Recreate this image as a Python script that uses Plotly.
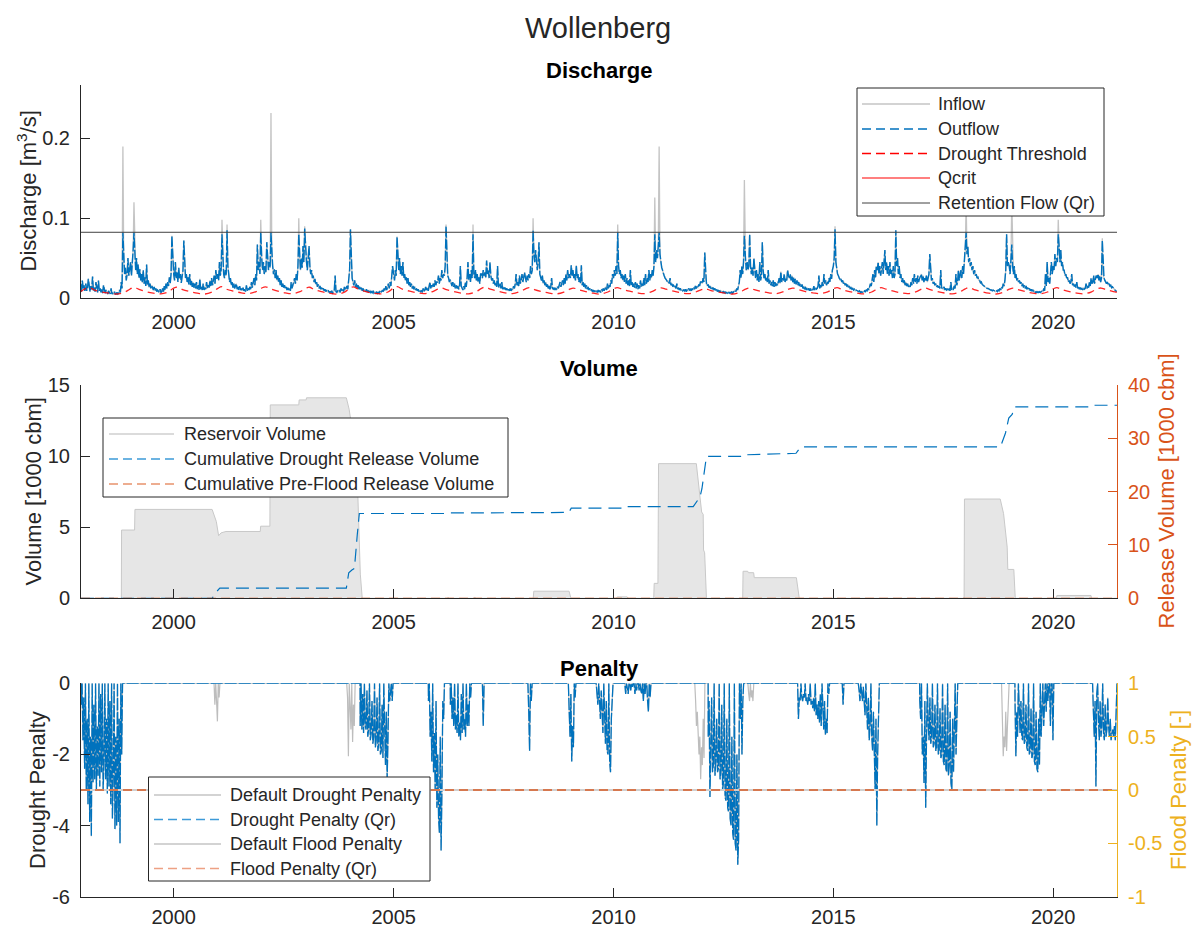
import pandas as pd
import plotly.graph_objects as go

W, H = 1193, 927
FONT = "Liberation Sans, Arial, Helvetica, sans-serif"
AX = "#262626"
BLUE = "#0072BD"
ORANGE = "#D95319"
YELLOW = "#EDB120"
RED = "#FF0000"
GRAY = "#c4c4c4"

T_START, T_END = "1997-11-22", "2021-06-14"
YEAR_TICKS = ["2000", "2005", "2010", "2015", "2020"]

# ---------------- Outflow (m3/s), weekly from Jan 1 of each year ----------------
out_1997 = [0.010, 0.018, 0.008, 0.022, 0.012, 0.016, 0.009]  # weeks 45-51
out_1998 = [0.018, 0.009, 0.012, 0.024, 0.010, 0.008, 0.015, 0.011, 0.027, 0.009, 0.013, 0.008, 0.020,
            0.010, 0.007, 0.022, 0.009, 0.012, 0.007, 0.011, 0.006, 0.016, 0.008, 0.006, 0.010, 0.006,
            0.005, 0.009, 0.006, 0.005, 0.012, 0.005, 0.006, 0.005, 0.008, 0.005, 0.005, 0.007, 0.005,
            0.006, 0.010, 0.007, 0.020, 0.012, 0.082, 0.045, 0.030, 0.038, 0.022, 0.030, 0.050, 0.028]
out_1999 = [0.035, 0.045, 0.028, 0.040, 0.060, 0.082, 0.045, 0.035, 0.050, 0.030, 0.042, 0.025, 0.036,
            0.022, 0.030, 0.019, 0.035, 0.018, 0.026, 0.015, 0.042, 0.016, 0.022, 0.013, 0.018, 0.012,
            0.016, 0.011, 0.010, 0.014, 0.009, 0.012, 0.008, 0.010, 0.008, 0.007, 0.011, 0.007, 0.008,
            0.012, 0.008, 0.015, 0.010, 0.018, 0.012, 0.020, 0.015, 0.026, 0.018, 0.030, 0.078, 0.040]
out_2000 = [0.030, 0.022, 0.045, 0.025, 0.032, 0.020, 0.038, 0.024, 0.030, 0.019, 0.028, 0.035, 0.072,
            0.035, 0.025, 0.030, 0.020, 0.026, 0.017, 0.030, 0.016, 0.022, 0.014, 0.020, 0.013, 0.018,
            0.012, 0.020, 0.011, 0.016, 0.010, 0.024, 0.011, 0.014, 0.010, 0.018, 0.010, 0.013, 0.011,
            0.020, 0.012, 0.016, 0.013, 0.022, 0.015, 0.025, 0.016, 0.020, 0.028, 0.018, 0.035, 0.024]
out_2001 = [0.030, 0.022, 0.045, 0.028, 0.035, 0.080, 0.040, 0.030, 0.025, 0.035, 0.028, 0.085, 0.040,
            0.028, 0.020, 0.025, 0.016, 0.020, 0.013, 0.018, 0.012, 0.015, 0.018, 0.011, 0.014, 0.010,
            0.015, 0.010, 0.012, 0.009, 0.013, 0.009, 0.011, 0.008, 0.016, 0.009, 0.012, 0.010, 0.014,
            0.011, 0.020, 0.013, 0.018, 0.025, 0.016, 0.030, 0.022, 0.067, 0.035, 0.045, 0.030, 0.082]
out_2002 = [0.050, 0.035, 0.045, 0.030, 0.040, 0.032, 0.070, 0.040, 0.035, 0.045, 0.038, 0.082, 0.050,
            0.040, 0.030, 0.036, 0.025, 0.035, 0.022, 0.028, 0.020, 0.025, 0.016, 0.022, 0.014, 0.018,
            0.013, 0.016, 0.012, 0.014, 0.010, 0.013, 0.010, 0.012, 0.009, 0.020, 0.012, 0.016, 0.018,
            0.025, 0.018, 0.030, 0.022, 0.040, 0.080, 0.045, 0.035, 0.050, 0.038, 0.065, 0.045, 0.087]
out_2003 = [0.060, 0.045, 0.035, 0.050, 0.065, 0.040, 0.030, 0.035, 0.025, 0.028, 0.020, 0.024, 0.017,
            0.020, 0.014, 0.017, 0.012, 0.015, 0.011, 0.013, 0.010, 0.012, 0.009, 0.011, 0.008, 0.010,
            0.008, 0.009, 0.007, 0.008, 0.007, 0.009, 0.006, 0.007, 0.010, 0.028, 0.008, 0.007, 0.009,
            0.008, 0.010, 0.007, 0.012, 0.009, 0.011, 0.008, 0.014, 0.010, 0.013, 0.015, 0.011, 0.020]
out_2004 = [0.035, 0.086, 0.040, 0.025, 0.020, 0.016, 0.022, 0.014, 0.018, 0.012, 0.016, 0.011, 0.014,
            0.010, 0.013, 0.009, 0.012, 0.009, 0.010, 0.008, 0.011, 0.008, 0.009, 0.007, 0.010, 0.007,
            0.008, 0.006, 0.009, 0.006, 0.007, 0.006, 0.008, 0.005, 0.007, 0.006, 0.009, 0.007, 0.008,
            0.010, 0.008, 0.012, 0.009, 0.015, 0.010, 0.013, 0.018, 0.012, 0.020, 0.015, 0.025, 0.040]
out_2005 = [0.030, 0.022, 0.035, 0.028, 0.077, 0.045, 0.035, 0.050, 0.030, 0.040, 0.028, 0.045, 0.025,
            0.030, 0.022, 0.026, 0.018, 0.025, 0.016, 0.020, 0.014, 0.018, 0.012, 0.015, 0.011, 0.014,
            0.010, 0.012, 0.009, 0.011, 0.008, 0.010, 0.008, 0.009, 0.007, 0.012, 0.008, 0.010, 0.014,
            0.010, 0.013, 0.009, 0.015, 0.020, 0.012, 0.016, 0.013, 0.018, 0.014, 0.022, 0.016, 0.020]
out_2006 = [0.020, 0.028, 0.018, 0.025, 0.022, 0.035, 0.025, 0.030, 0.028, 0.040, 0.090, 0.035, 0.028,
            0.025, 0.020, 0.023, 0.018, 0.015, 0.020, 0.014, 0.018, 0.012, 0.016, 0.012, 0.015, 0.011,
            0.014, 0.040, 0.015, 0.012, 0.010, 0.015, 0.011, 0.020, 0.014, 0.025, 0.045, 0.022, 0.030,
            0.020, 0.035, 0.025, 0.080, 0.030, 0.025, 0.035, 0.022, 0.030, 0.020, 0.026, 0.018, 0.030]
out_2007 = [0.030, 0.025, 0.035, 0.028, 0.032, 0.025, 0.047, 0.030, 0.035, 0.025, 0.045, 0.028, 0.022,
            0.025, 0.018, 0.022, 0.016, 0.019, 0.014, 0.040, 0.015, 0.013, 0.018, 0.012, 0.020, 0.011,
            0.014, 0.011, 0.013, 0.010, 0.012, 0.009, 0.011, 0.009, 0.012, 0.009, 0.011, 0.010, 0.015,
            0.012, 0.018, 0.030, 0.016, 0.020, 0.015, 0.028, 0.018, 0.022, 0.030, 0.020, 0.025, 0.032]
out_2008 = [0.025, 0.020, 0.028, 0.022, 0.030, 0.025, 0.040, 0.030, 0.035, 0.085, 0.055, 0.045, 0.060,
            0.040, 0.035, 0.045, 0.070, 0.030, 0.025, 0.022, 0.028, 0.018, 0.022, 0.016, 0.020, 0.014,
            0.017, 0.012, 0.015, 0.011, 0.014, 0.025, 0.012, 0.011, 0.013, 0.010, 0.012, 0.011, 0.014,
            0.012, 0.016, 0.020, 0.014, 0.018, 0.022, 0.016, 0.025, 0.018, 0.030, 0.022, 0.035, 0.025]
out_2009 = [0.030, 0.025, 0.041, 0.028, 0.035, 0.025, 0.030, 0.022, 0.041, 0.025, 0.030, 0.020, 0.026,
            0.018, 0.041, 0.016, 0.020, 0.014, 0.018, 0.012, 0.016, 0.011, 0.014, 0.010, 0.012, 0.009,
            0.011, 0.008, 0.010, 0.008, 0.009, 0.007, 0.009, 0.007, 0.010, 0.008, 0.009, 0.007, 0.010,
            0.009, 0.012, 0.009, 0.011, 0.014, 0.010, 0.018, 0.012, 0.016, 0.014, 0.022, 0.018, 0.030]
out_2010 = [0.025, 0.035, 0.028, 0.040, 0.030, 0.082, 0.040, 0.030, 0.035, 0.025, 0.030, 0.022, 0.028,
            0.020, 0.030, 0.018, 0.025, 0.016, 0.022, 0.015, 0.035, 0.016, 0.020, 0.014, 0.018, 0.013,
            0.020, 0.012, 0.018, 0.011, 0.016, 0.012, 0.022, 0.014, 0.018, 0.015, 0.025, 0.016, 0.030,
            0.018, 0.025, 0.020, 0.035, 0.022, 0.030, 0.025, 0.035, 0.028, 0.040, 0.080, 0.045, 0.060]
out_2011 = [0.050, 0.065, 0.082, 0.055, 0.045, 0.038, 0.035, 0.030, 0.028, 0.025, 0.024, 0.022, 0.020,
            0.021, 0.018, 0.025, 0.016, 0.018, 0.015, 0.016, 0.013, 0.015, 0.012, 0.018, 0.011, 0.013,
            0.010, 0.012, 0.010, 0.011, 0.009, 0.010, 0.009, 0.011, 0.008, 0.010, 0.009, 0.012, 0.010,
            0.011, 0.009, 0.012, 0.010, 0.013, 0.011, 0.015, 0.012, 0.014, 0.013, 0.017, 0.015, 0.020]
out_2012 = [0.020, 0.018, 0.025, 0.020, 0.057, 0.025, 0.018, 0.015, 0.017, 0.013, 0.015, 0.012, 0.014,
            0.011, 0.013, 0.010, 0.012, 0.009, 0.011, 0.008, 0.010, 0.008, 0.009, 0.007, 0.009, 0.007,
            0.008, 0.006, 0.008, 0.006, 0.007, 0.006, 0.008, 0.006, 0.007, 0.006, 0.008, 0.006, 0.007,
            0.008, 0.010, 0.008, 0.012, 0.010, 0.015, 0.020, 0.035, 0.025, 0.040, 0.030, 0.045, 0.078]
out_2013 = [0.050, 0.035, 0.045, 0.035, 0.040, 0.080, 0.040, 0.030, 0.038, 0.028, 0.050, 0.030, 0.025,
            0.035, 0.022, 0.030, 0.020, 0.045, 0.022, 0.028, 0.070, 0.035, 0.025, 0.030, 0.022, 0.026,
            0.020, 0.035, 0.018, 0.022, 0.016, 0.020, 0.015, 0.022, 0.014, 0.020, 0.015, 0.018, 0.016,
            0.020, 0.025, 0.018, 0.033, 0.020, 0.025, 0.022, 0.030, 0.020, 0.025, 0.022, 0.035, 0.028]
out_2014 = [0.025, 0.030, 0.022, 0.028, 0.020, 0.026, 0.018, 0.024, 0.017, 0.022, 0.016, 0.020, 0.015,
            0.018, 0.014, 0.017, 0.012, 0.015, 0.011, 0.014, 0.010, 0.013, 0.010, 0.012, 0.009, 0.012,
            0.009, 0.011, 0.010, 0.015, 0.010, 0.013, 0.011, 0.012, 0.015, 0.028, 0.012, 0.016, 0.013,
            0.020, 0.015, 0.030, 0.018, 0.022, 0.016, 0.020, 0.018, 0.025, 0.020, 0.030, 0.024, 0.035]
out_2015 = [0.040, 0.050, 0.086, 0.045, 0.035, 0.030, 0.028, 0.025, 0.022, 0.024, 0.020, 0.022, 0.018,
            0.020, 0.016, 0.018, 0.015, 0.016, 0.013, 0.015, 0.012, 0.013, 0.011, 0.012, 0.010, 0.011,
            0.009, 0.010, 0.009, 0.009, 0.008, 0.009, 0.007, 0.008, 0.007, 0.008, 0.007, 0.009, 0.008,
            0.010, 0.009, 0.012, 0.010, 0.014, 0.018, 0.015, 0.025, 0.030, 0.020, 0.035, 0.025, 0.040]
out_2016 = [0.035, 0.045, 0.030, 0.040, 0.028, 0.035, 0.045, 0.030, 0.050, 0.060, 0.035, 0.045, 0.030,
            0.040, 0.028, 0.045, 0.030, 0.035, 0.025, 0.040, 0.025, 0.030, 0.085, 0.040, 0.050, 0.030,
            0.040, 0.025, 0.030, 0.020, 0.025, 0.018, 0.022, 0.016, 0.020, 0.015, 0.018, 0.014, 0.016,
            0.014, 0.020, 0.016, 0.025, 0.018, 0.030, 0.020, 0.025, 0.018, 0.028, 0.020, 0.024, 0.028]
out_2017 = [0.030, 0.022, 0.028, 0.020, 0.025, 0.022, 0.028, 0.020, 0.024, 0.030, 0.055, 0.028, 0.022,
            0.025, 0.018, 0.020, 0.016, 0.018, 0.014, 0.016, 0.013, 0.015, 0.012, 0.035, 0.013, 0.012,
            0.011, 0.014, 0.010, 0.012, 0.010, 0.011, 0.009, 0.012, 0.009, 0.020, 0.010, 0.012, 0.011,
            0.015, 0.012, 0.030, 0.016, 0.020, 0.035, 0.022, 0.028, 0.035, 0.025, 0.040, 0.030, 0.050]
out_2018 = [0.060, 0.082, 0.055, 0.065, 0.045, 0.050, 0.040, 0.045, 0.035, 0.040, 0.030, 0.035, 0.028,
            0.030, 0.025, 0.026, 0.022, 0.022, 0.019, 0.020, 0.017, 0.016, 0.015, 0.014, 0.014, 0.013,
            0.012, 0.012, 0.011, 0.011, 0.010, 0.010, 0.009, 0.010, 0.009, 0.009, 0.008, 0.009, 0.008,
            0.010, 0.009, 0.012, 0.010, 0.014, 0.012, 0.018, 0.015, 0.022, 0.035, 0.080, 0.040, 0.045]
out_2019 = [0.040, 0.030, 0.045, 0.067, 0.040, 0.030, 0.040, 0.025, 0.030, 0.022, 0.025, 0.020, 0.022,
            0.018, 0.020, 0.015, 0.018, 0.013, 0.016, 0.012, 0.015, 0.011, 0.013, 0.010, 0.012, 0.009,
            0.011, 0.009, 0.010, 0.008, 0.009, 0.007, 0.008, 0.007, 0.008, 0.007, 0.008, 0.007, 0.008,
            0.009, 0.008, 0.012, 0.009, 0.030, 0.015, 0.045, 0.020, 0.025, 0.018, 0.030, 0.045, 0.030]
out_2020 = [0.040, 0.035, 0.055, 0.040, 0.050, 0.045, 0.080, 0.065, 0.045, 0.060, 0.040, 0.045, 0.035,
            0.035, 0.028, 0.030, 0.025, 0.026, 0.020, 0.022, 0.018, 0.020, 0.030, 0.016, 0.018, 0.015,
            0.016, 0.013, 0.020, 0.012, 0.014, 0.011, 0.013, 0.011, 0.012, 0.010, 0.013, 0.011, 0.012,
            0.018, 0.012, 0.015, 0.013, 0.020, 0.015, 0.025, 0.018, 0.020, 0.028, 0.018, 0.022, 0.028]
out_2021 = [0.025, 0.030, 0.022, 0.028, 0.020, 0.025, 0.072, 0.030, 0.025, 0.022, 0.020, 0.018,
            0.020, 0.016, 0.018, 0.015, 0.016, 0.013, 0.014, 0.012, 0.011, 0.010, 0.009, 0.008]

outflow_years = [(1997, 45, out_1997), (1998, 0, out_1998), (1999, 0, out_1999), (2000, 0, out_2000),
                 (2001, 0, out_2001), (2002, 0, out_2002), (2003, 0, out_2003), (2004, 0, out_2004),
                 (2005, 0, out_2005), (2006, 0, out_2006), (2007, 0, out_2007), (2008, 0, out_2008),
                 (2009, 0, out_2009), (2010, 0, out_2010), (2011, 0, out_2011), (2012, 0, out_2012),
                 (2013, 0, out_2013), (2014, 0, out_2014), (2015, 0, out_2015), (2016, 0, out_2016),
                 (2017, 0, out_2017), (2018, 0, out_2018), (2019, 0, out_2019), (2020, 0, out_2020),
                 (2021, 0, out_2021)]

# inflow equals outflow except at the flood peaks retained by the reservoir (year, week, m3/s)
inflow_peak_year = [1998, 1999, 2001, 2001, 2001, 2002, 2002, 2002, 2006, 2006,
                    2008, 2010, 2010, 2011, 2012, 2015, 2018, 2019, 2020, 2021]
inflow_peak_week = [44, 5, 5, 11, 51, 11, 44, 51, 10, 42,
                    9, 5, 49, 2, 51, 2, 1, 3, 6, 6]
inflow_peak_value = [0.190, 0.120, 0.098, 0.092, 0.098, 0.232, 0.100, 0.090, 0.092, 0.092,
                     0.100, 0.092, 0.126, 0.190, 0.148, 0.090, 0.120, 0.120, 0.098, 0.075]

# drought threshold knots: 1997-11-15, then Jan 1, Feb 1, Mar 15, May 15, Jul 15, Sep 15, Nov 15 of each year
threshold_knots = ["01-01", "02-01", "03-15", "05-15", "07-15", "09-15", "11-15"]
threshold = [
    0.0075,
    0.0120, 0.0130, 0.0100, 0.0075, 0.0060, 0.0050, 0.0070,
    0.0110, 0.0135, 0.0110, 0.0080, 0.0062, 0.0052, 0.0075,
    0.0125, 0.0135, 0.0105, 0.0080, 0.0060, 0.0050, 0.0075,
    0.0120, 0.0142, 0.0110, 0.0085, 0.0065, 0.0055, 0.0080,
    0.0125, 0.0140, 0.0115, 0.0085, 0.0065, 0.0055, 0.0080,
    0.0120, 0.0135, 0.0105, 0.0080, 0.0060, 0.0050, 0.0070,
    0.0120, 0.0140, 0.0110, 0.0080, 0.0060, 0.0052, 0.0075,
    0.0125, 0.0142, 0.0110, 0.0085, 0.0065, 0.0055, 0.0078,
    0.0110, 0.0125, 0.0105, 0.0080, 0.0062, 0.0052, 0.0078,
    0.0120, 0.0138, 0.0110, 0.0085, 0.0065, 0.0055, 0.0080,
    0.0115, 0.0130, 0.0105, 0.0080, 0.0062, 0.0052, 0.0075,
    0.0110, 0.0125, 0.0105, 0.0080, 0.0060, 0.0050, 0.0075,
    0.0115, 0.0130, 0.0110, 0.0085, 0.0065, 0.0055, 0.0080,
    0.0115, 0.0128, 0.0110, 0.0085, 0.0065, 0.0055, 0.0075,
    0.0105, 0.0118, 0.0095, 0.0075, 0.0060, 0.0050, 0.0072,
    0.0110, 0.0125, 0.0105, 0.0080, 0.0065, 0.0055, 0.0080,
    0.0115, 0.0125, 0.0105, 0.0080, 0.0065, 0.0055, 0.0078,
    0.0115, 0.0130, 0.0105, 0.0080, 0.0062, 0.0052, 0.0075,
    0.0115, 0.0130, 0.0110, 0.0085, 0.0065, 0.0055, 0.0078,
    0.0110, 0.0125, 0.0105, 0.0080, 0.0062, 0.0052, 0.0075,
    0.0115, 0.0130, 0.0105, 0.0080, 0.0060, 0.0050, 0.0075,
    0.0110, 0.0125, 0.0105, 0.0080, 0.0062, 0.0052, 0.0075,
    0.0115, 0.0130, 0.0105, 0.0080, 0.0062, 0.0052, 0.0078,
    0.0115, 0.0125, 0.0105, 0.0080, 0.0065,
]
qr_flow = 0.0824

# ---------------- Volume (1000 m3) ----------------
volume_dates = [
    "1997-11-22", "1998-10-23", "1998-10-25", "1999-02-10", "1999-02-13", "2000-11-15",
    "2000-12-20", "2001-01-08", "2001-01-28", "2001-03-10", "2001-12-20", "2001-12-23",
    "2002-03-10", "2002-03-13", "2002-11-05", "2002-11-08", "2003-01-05", "2003-01-08",
    "2003-12-05", "2003-12-28", "2004-02-05", "2004-03-10", "2004-03-30", "2004-04-15",
    "2006-03-20", "2006-03-28", "2006-04-10", "2006-10-28", "2006-11-05", "2006-11-18",
    "2008-03-05", "2008-03-10", "2008-12-28", "2009-01-12",
    "2010-01-25", "2010-02-01", "2010-04-25", "2010-05-05",
    "2010-12-01", "2010-12-05", "2011-01-05", "2011-01-10", "2011-11-20", "2012-01-03",
    "2012-01-16", "2012-01-19", "2012-01-28", "2012-02-12",
    "2012-12-09", "2012-12-12", "2013-01-20", "2013-01-25", "2013-03-10", "2013-03-15",
    "2014-02-28", "2014-03-24",
    "2017-12-22", "2017-12-25", "2018-10-18", "2018-11-15", "2018-12-15", "2018-12-20",
    "2019-02-08", "2019-02-20",
    "2020-01-28", "2020-02-01", "2020-11-10", "2020-11-14", "2021-06-14",
]
volume_values = [
    0, 0, 4.8, 4.8, 6.25, 6.25,
    5.4, 4.4, 4.6, 4.7, 4.7, 5.07,
    5.07, 13.6, 13.6, 13.95, 13.95, 14.1,
    14.1, 13.3, 11.1, 7.1, 1.7, 0,
    0, 0.06, 0, 0, 0.06, 0,
    0, 0.5, 0.5, 0,
    0, 0.1, 0.1, 0,
    0, 1.05, 1.05, 9.47, 9.47, 6.07,
    5.9, 3.4, 3.2, 0,
    0, 1.9, 1.9, 1.8, 1.8, 1.45,
    1.45, 0,
    0, 6.98, 6.98, 5.95, 3.6, 2.03,
    2.03, 0,
    0, 0.2, 0.2, 0, 0,
]

release_dates = [
    "1997-11-22", "2000-11-15", "2000-12-20", "2001-01-18", "2003-12-05", "2003-12-25",
    "2004-01-20", "2004-02-10", "2004-03-05", "2004-03-22", "2006-04-01", "2006-04-10",
    "2008-12-25", "2009-01-15", "2010-03-10", "2010-03-20", "2011-10-25", "2011-12-20",
    "2012-01-05", "2012-01-25", "2012-02-12", "2012-12-10", "2012-12-20", "2014-02-25",
    "2014-04-05", "2018-10-20", "2018-12-01", "2018-12-28", "2019-01-25", "2019-02-15",
    "2020-10-25", "2020-11-05", "2021-06-14",
]
release_values = [
    0, 0, 1.2, 1.9, 1.9, 4.8,
    5.3, 5.6, 12.0, 15.9, 15.9, 16.0,
    16.1, 16.9, 16.9, 17.2, 17.2, 19.0,
    20.5, 24.1, 26.6, 26.6, 26.9, 27.2,
    28.4, 28.4, 31.0, 33.8, 34.5, 35.9,
    35.9, 36.2, 36.2,
]
preflood_dates = ["1997-11-22", "2021-06-14"]
preflood_values = [0, 0]

# ---------------- Penalty: weekly values of each drought episode ----------------
pen_1998 = ("1997-11-24", [-0.6, 0, -1.6, -0.4, -2.4, 0, -3.0, -1.0, -3.4, 0, -3.9, -1.5, -4.3, 0, -2.8, -0.6,
                           -2.7, 0, -3.0, -1.2, -2.6, 0, -2.9, -0.3, -2.5, 0, -3.0, -2.2, 0, -2.7, -1.0, -3.1,
                           0, -2.9, -0.5, -3.4, 0, -3.8, -2.6, 0, -4.1, -1.5, -4.0, 0, -3.9, -1.0, -4.5, 0, -2.0, 0])
pen_2004 = ("2004-03-29", [-1.2, 0, -1.3, -0.3, -1.4, 0, -1.2, -1.3, -0.2, -1.5, -1.3, 0, -1.6, -1.4, -0.5, -1.7,
                           -1.5, 0, -1.8, -1.6, -0.4, -1.9, -1.7, 0, -2.0, -1.9, -0.6, -2.1, 0, -2.0, -2.3, -0.8,
                           -2.7, -1.5, 0, -0.5, -0.2, 0, -0.5, 0])
pen_2006a = ("2005-10-17", [-0.5, 0, -1.5, -0.8, -2.2, 0, -2.5, -1.4, -3.0, -0.5, -3.5, -2.0, -3.8, -4.2, -1.5,
                            -4.7, -3.0, -0.5, -1.0, 0])
pen_2006b = ("2006-04-17", [-0.6, 0, -1.0, -0.4, -1.2, 0, -1.3, -0.9, -1.4, 0, -1.5, -1.1, -1.6, -0.3, -1.4, 0,
                            -1.3, -1.0, -1.5, 0, -1.2, -0.6, -1.2, 0, -0.4, 0])
pen_2007 = ("2007-01-08", [0, -1.2, 0])
pen_2008 = ("2008-01-21", [0, -0.8, -1.9, 0, -0.5, 0])
pen_2009a = ("2008-12-22", [0, -0.8, -1.5, -0.3, -2.2, -1.2, -1.8, 0, -0.4, 0])
pen_2009b = ("2009-08-10", [0, -0.3, -0.6, 0, -0.8, -1.0, -0.2, -1.2, -1.4, 0, -1.5, -1.7, -0.5, -1.9, -2.0, 0,
                            -2.2, -2.5, -1.0, -0.3, 0])
pen_2010 = ("2010-04-05", [0, -0.3, 0, -0.15, -0.3, 0, 0, -0.2, 0, -0.1, 0, 0, -0.3, 0, -0.2, 0, 0, -0.2, 0,
                           -0.2, -0.3, 0, -0.5, 0, -0.3, 0, 0, -0.5, -0.8, 0, -0.4, 0])
pen_2012 = ("2012-02-27", [-1.5, -0.5, -3.2, -2.0, -0.4, -2.5, -2.3, 0, -2.6, -2.2, -1.0, -2.5, -2.4, 0, -2.7,
                           -2.5, -0.6, -3.0, -2.8, 0, -3.2, -3.3, -1.0, -3.5, -3.6, 0, -3.8, -4.0, -1.5, -4.2,
                           -4.4, 0, -4.5, -4.7, -2.0, -5.1, -4.4, 0, -1.0, 0, -2.0, -0.5, 0])
pen_2014 = ("2014-03-10", [0, -1.0, -0.4, -0.5, 0, -0.4, -0.5, -0.3, -0.4, 0, -0.5, -0.4, -0.6, -0.3, -0.5, 0,
                           -0.6, -0.5, -0.7, -0.4, -0.8, 0, -0.9, -0.6, -1.0, -0.5, -1.1, -0.3, -1.2, 0, -1.0,
                           -1.3, -0.5, -1.45, -1.0, -1.4, 0, -0.3, 0])
pen_2015a = ("2015-03-16", [0, -0.6, 0])
pen_2015b = ("2015-07-27", [0, -0.2, -0.5, 0, -0.3, -0.5, -0.1, -0.7, -0.9, 0, -1.1, -1.3, -0.4, -1.6, -1.2, 0,
                            -1.5, -1.9, -0.8, -2.5, -3.0, -1.0, -4.0, -2.0, -0.6, 0])
pen_2017 = ("2016-12-19", [-0.5, -1.0, 0, -2.0, -1.5, -2.8, -0.5, -3.5, -1.5, 0, -1.2, -1.6, -0.4, -1.7, -1.5, 0,
                           -1.8, -1.7, -0.6, -1.9, -1.8, 0, -2.0, -1.9, -0.7, -2.1, -2.0, 0, -2.2, -2.3, -0.6,
                           -2.4, -2.5, 0, -2.6, -2.3, -0.8, -2.8, -3.0, -1.0, -2.5, -0.4, 0, -2.0, -0.5, 0])
pen_2019 = ("2019-02-18", [-0.5, -2.05, -0.8, -1.5, 0, -1.2, -1.4, -0.5, -1.5, -1.6, 0, -1.7, -1.6, -0.6, -1.8,
                           -1.9, 0, -2.0, -1.9, -0.7, -2.1, -2.0, 0, -2.2, -2.3, -0.8, -2.4, -2.5, -1.0, -2.3, 0,
                           -1.5, -0.6, 0, -1.2, -0.3, 0, -0.8, 0, -0.5, 0, 0, -1.2, 0, 0, -1.6, 0])
pen_2021 = ("2020-11-23", [0, -0.8, -1.5, -0.5, -2.9, -0.3, 0, -1.0, -1.6, -0.5, -1.5, -1.2, 0, -1.4, -1.6,
                           -0.6, -1.5, -1.3, -0.4, -1.2, -1.5, -1.0, -1.6, -1.4, -1.3, -1.5, -1.2, -1.6, -1.0])

# episodes that only occur with the default operation
default_2001 = ("2000-12-01", [0, -0.6, 0, -0.5, -1.07, 0, -0.4, 0])
default_2004 = ("2003-12-08", [0, -0.4, -2.05, 0, -0.7, -1.3, 0, -1.65, -0.6, -1.2, 0])
default_2012 = ("2011-11-07", [0, -0.5, -1.2, -0.8, -1.6, -2.0, -1.5, -2.7, -1.8, -2.3, -1.0, -2.1, 0])
default_2013 = ("2013-01-21", [0, -0.3, -0.5, 0, -0.4, -0.2, -0.5, 0])
default_2019 = ("2018-10-29", [0, -1.0, -2.05, -1.5, -1.8, -0.8, -1.9, -1.2, -0.5, 0])

drought_episodes = [pen_1998, pen_2004, pen_2006a, pen_2006b, pen_2007, pen_2008, pen_2009a, pen_2009b,
                    pen_2010, pen_2012, pen_2014, pen_2015a, pen_2015b, pen_2017, pen_2019, pen_2021]
default_only_episodes = [default_2001, default_2004, default_2012, default_2013, default_2019]
flood_penalty = 0.0


# ---------------- helpers ----------------
def px(x):
    return x / W


def py(y):
    return 1 - y / H


def week_date(year, week):
    return pd.Timestamp(f"{year}-01-01") + pd.Timedelta(days=7 * week)


def episode_series(episodes):
    xs, ys = [pd.Timestamp(T_START)], [0.0]
    for start, vals in sorted(episodes, key=lambda e: e[0]):
        t0 = pd.Timestamp(start)
        xs.append(t0 - pd.Timedelta(days=1))
        ys.append(0.0)
        for i, v in enumerate(vals):
            xs.append(t0 + pd.Timedelta(days=7 * i))
            ys.append(v)
        xs.append(t0 + pd.Timedelta(days=7 * len(vals)))
        ys.append(0.0)
    xs.append(pd.Timestamp(T_END))
    ys.append(0.0)
    return xs, ys


out_dates, outflow = [], []
for yr, w0, vals in outflow_years:
    for i, v in enumerate(vals):
        out_dates.append(week_date(yr, w0 + i))
        outflow.append(v)

inflow = list(outflow)
for yr, wk, v in zip(inflow_peak_year, inflow_peak_week, inflow_peak_value):
    inflow[out_dates.index(week_date(yr, wk))] = v

threshold_dates = [pd.Timestamp("1997-11-15")]
year = 1998
while len(threshold_dates) < len(threshold):
    for md in threshold_knots:
        if len(threshold_dates) < len(threshold):
            threshold_dates.append(pd.Timestamp(f"{year}-{md}"))
    year += 1

fig = go.Figure()

# Discharge panel
fig.add_trace(go.Scatter(x=out_dates, y=inflow, mode="lines", line=dict(color=GRAY, width=1.3),
                         xaxis="x", yaxis="y", name="Inflow"))
fig.add_trace(go.Scatter(x=out_dates, y=outflow, mode="lines", line=dict(color=BLUE, width=1.4, dash="10px,2px"),
                         xaxis="x", yaxis="y", name="Outflow"))
fig.add_trace(go.Scatter(x=threshold_dates, y=threshold, mode="lines", line=dict(color=RED, width=1.3, dash="7px,5px"),
                         line_shape="spline", opacity=0.85, xaxis="x", yaxis="y", name="Drought Threshold"))
fig.add_trace(go.Scatter(x=[T_START, T_END], y=[qr_flow, qr_flow], mode="lines", line=dict(color="#404040", width=1),
                         xaxis="x", yaxis="y", name="Retention Flow (Qr)"))

# Volume panel
fig.add_trace(go.Scatter(x=volume_dates, y=volume_values, mode="lines", fill="tozeroy", fillcolor="#e6e6e6",
                         line=dict(color="#c8c8c8", width=1), xaxis="x2", yaxis="y2", name="Reservoir Volume"))
fig.add_trace(go.Scatter(x=release_dates, y=release_values, mode="lines", line=dict(color=BLUE, width=1.2, dash="13px,7px"),
                         xaxis="x2", yaxis="y4", name="Cumulative Drought Release Volume"))
fig.add_trace(go.Scatter(x=preflood_dates, y=preflood_values, mode="lines", line=dict(color=ORANGE, width=1.2, dash="9px,5px"),
                         xaxis="x2", yaxis="y4", name="Cumulative Pre-Flood Release Volume"))

# Penalty panel
dx, dy = episode_series(drought_episodes + default_only_episodes)
bx, by = episode_series(drought_episodes)
fig.add_trace(go.Scatter(x=dx, y=dy, mode="lines", line=dict(color="#bdbdbd", width=1.2),
                         xaxis="x3", yaxis="y3", name="Default Drought Penalty"))
fig.add_trace(go.Scatter(x=bx, y=by, mode="lines", line=dict(color=BLUE, width=1.3, dash="12px,2px"),
                         xaxis="x3", yaxis="y3", name="Drought Penalty (Qr)"))
fig.add_trace(go.Scatter(x=[T_START, T_END], y=[flood_penalty, flood_penalty], mode="lines",
                         line=dict(color="#d0d0d0", width=2), xaxis="x3", yaxis="y5", name="Default Flood Penalty"))
fig.add_trace(go.Scatter(x=[T_START, T_END], y=[flood_penalty, flood_penalty], mode="lines",
                         line=dict(color=ORANGE, width=2, dash="9px,5px"), opacity=0.7,
                         xaxis="x3", yaxis="y5", name="Flood Penalty (Qr)"))

TICK_FONT = dict(family=FONT, size=20, color=AX)
XD = [px(81), px(1117)]


def xaxis(anchor, standoff=6):
    return dict(domain=XD, anchor=anchor, type="date", range=[T_START, T_END],
                tickvals=[f"{y}-01-01" for y in YEAR_TICKS], ticktext=YEAR_TICKS,
                ticks="inside", ticklen=9, tickcolor=AX, showline=True, linecolor=AX, linewidth=1,
                showgrid=False, zeroline=False, tickfont=TICK_FONT, ticklabelstandoff=standoff,
                automargin=False)


def yaxis(dom, rng, vals, texts, color=AX, **kw):
    d = dict(range=rng, tickvals=vals, ticktext=texts, ticks="inside", ticklen=9, tickcolor=color,
             showline=True, linecolor=color, linewidth=1, showgrid=False, zeroline=False,
             tickfont=dict(family=FONT, size=20, color=color), ticklabelstandoff=6, automargin=False)
    if dom is not None:
        d["domain"] = dom
    d.update(kw)
    return d


shapes, annotations = [], []


def legend_box(x0, y0, x1, y1, rows, row_ys, lx0, lx1, tx):
    shapes.append(dict(type="rect", xref="paper", yref="paper", x0=px(x0), x1=px(x1), y0=py(y1), y1=py(y0),
                       line=dict(color=AX, width=1), fillcolor="white", layer="above"))
    for (label, color, dash, width), yy in zip(rows, row_ys):
        shapes.append(dict(type="line", xref="paper", yref="paper", x0=px(lx0), x1=px(lx1), y0=py(yy), y1=py(yy),
                           line=dict(color=color, width=width, dash=dash), layer="above"))
        annotations.append(dict(x=px(tx), y=py(yy), xref="paper", yref="paper", text=label, showarrow=False,
                                xanchor="left", yanchor="middle", font=dict(family=FONT, size=18, color=AX)))


legend_box(857, 88, 1104, 216,
           [("Inflow", GRAY, "solid", 1.5), ("Outflow", BLUE, "9px,5px", 1.3),
            ("Drought Threshold", RED, "9px,5px", 1.3), ("Qcrit", RED, "solid", 1.2),
            ("Retention Flow (Qr)", "#404040", "solid", 1)],
           [104, 129, 153.5, 178, 203], 862, 930, 936)
legend_box(103, 418, 508, 497,
           [("Reservoir Volume", "#cfcfcf", "solid", 1.5), ("Cumulative Drought Release Volume", "#3d9ad8", "9px,5px", 1.3),
            ("Cumulative Pre-Flood Release Volume", "#e8926c", "9px,5px", 1.3)],
           [434, 459, 484], 109, 174, 182)
legend_box(148.5, 777, 430, 881,
           [("Default Drought Penalty", "#c4c4c4", "solid", 1.5), ("Drought Penalty (Qr)", "#3d9ad8", "9px,5px", 1.3),
            ("Default Flood Penalty", "#c4c4c4", "solid", 1.5), ("Flood Penalty (Qr)", "#eda184", "9px,5px", 1.5)],
           [795, 819.5, 844, 868.5], 154, 221, 228)

# titles
annotations.append(dict(x=px(598), y=py(28), xref="paper", yref="paper", text="Wollenberg", showarrow=False,
                        xanchor="center", yanchor="middle", font=dict(family=FONT, size=29, color=AX)))
for text, yy in [("Discharge", 70), ("Volume", 368), ("Penalty", 668)]:
    annotations.append(dict(x=px(599), y=py(yy), xref="paper", yref="paper", text=f"<b>{text}</b>", showarrow=False,
                            xanchor="center", yanchor="middle", font=dict(family=FONT, size=22, color="#000000")))
for text, xx, yy, color in [("Discharge [m<sup>3</sup>/s]", 27, 191.5, AX), ("Volume [1000 cbm]", 33, 491.5, AX),
                            ("Drought Penalty", 37, 790, AX), ("Release Volume [1000 cbm]", 1166, 491.5, ORANGE),
                            ("Flood Penalty [-]", 1178, 790, YELLOW)]:
    annotations.append(dict(x=px(xx), y=py(yy), xref="paper", yref="paper", text=text, showarrow=False,
                            textangle=-90, xanchor="center", yanchor="middle", font=dict(family=FONT, size=22, color=color)))

fig.update_layout(
    template="none",
    width=W, height=H, margin=dict(l=0, r=0, t=0, b=0, pad=0), autosize=False,
    paper_bgcolor="white", plot_bgcolor="white", showlegend=False,
    font=dict(family=FONT, color=AX),
    xaxis=xaxis("y"), xaxis2=xaxis("y2"), xaxis3=xaxis("y3", standoff=2),
    yaxis=yaxis([py(298), py(85)], [0, 0.267], [0, 0.1, 0.2], ["0", "0.1", "0.2"], anchor="x"),
    yaxis2=yaxis([py(598.3), py(385)], [0, 15], [0, 5, 10, 15], ["0", "5", "10", "15"], anchor="x2"),
    yaxis3=yaxis([py(896.7), py(683.3)], [-6, 0], [-6, -4, -2, 0], ["-6", "-4", "-2", "0"], anchor="x3"),
    yaxis4=yaxis(None, [0, 40], [0, 10, 20, 30, 40], ["0", "10", "20", "30", "40"], color=ORANGE,
                 overlaying="y2", side="right", anchor="x2"),
    yaxis5=yaxis(None, [-1, 1], [-1, -0.5, 0, 0.5, 1], ["-1", "-0.5", "0", "0.5", "1"], color=YELLOW,
                 overlaying="y3", side="right", anchor="x3"),
    shapes=shapes, annotations=annotations,
)

fig.write_html("out.html")
